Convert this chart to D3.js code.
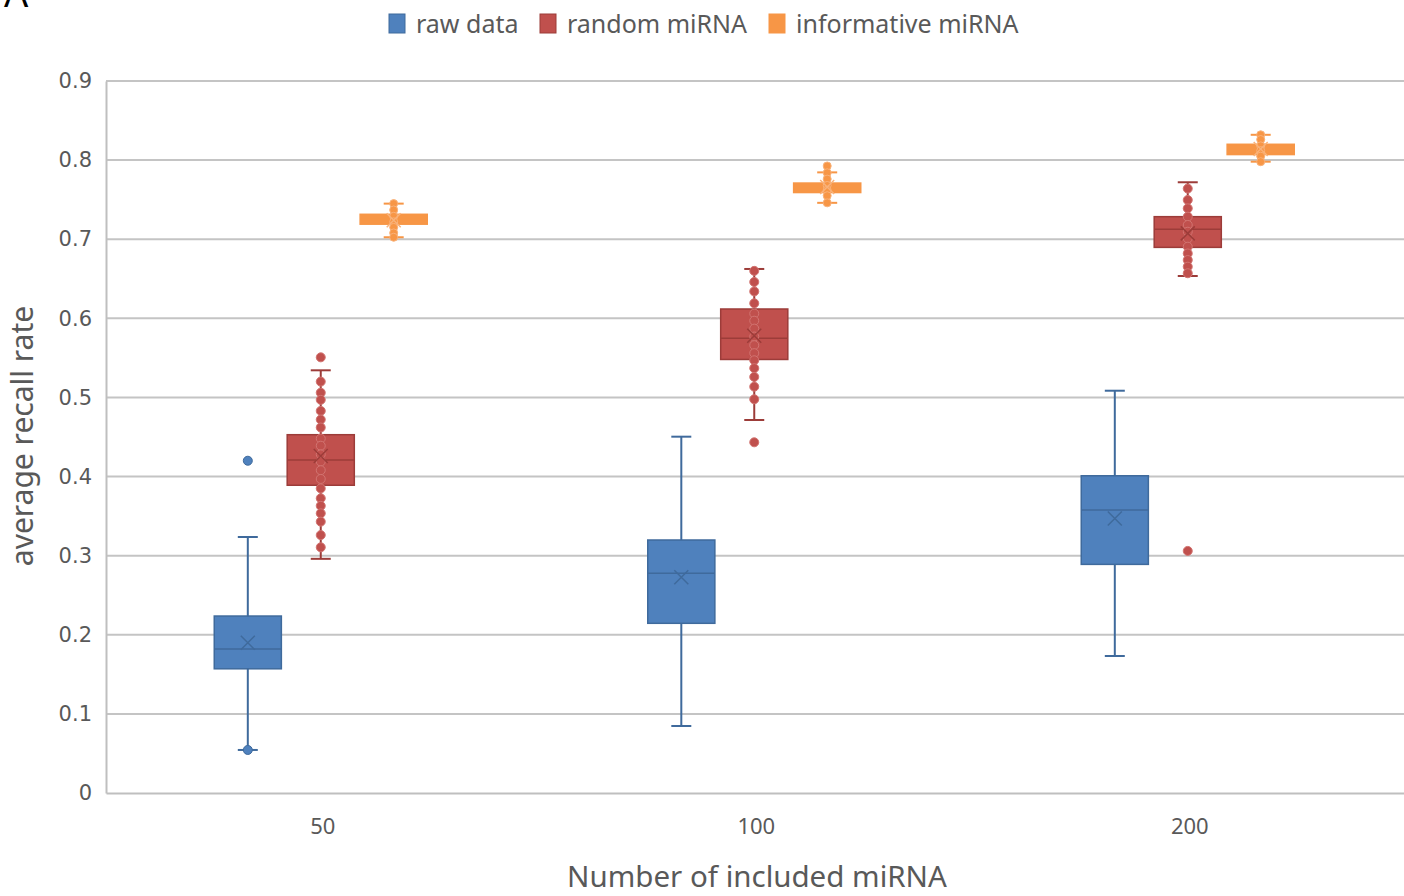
<!DOCTYPE html>
<html lang="en">
<head>
<meta charset="UTF-8">
<script src="https://d3js.org/d3.v7.min.js"></script>
<title>recall</title>
<style>
  body { margin: 0; background: #fff; }
  text { font-family: "Noto Sans", sans-serif; fill: #595959; }
</style>
</head>
<body>
<svg width="1404" height="896" id="chart"></svg>
<script>
    // data
    const categories = ["50", "100", "200"];
    const series = ["raw data", "random miRNA", "informative miRNA"];
    const colors = ["#4f81bd", "#c0504d", "#f79646"];
    const strokes = ["#3f6a9c", "#9c3c39", "#f79646"];
    const yTicks = [0, 0.1, 0.2, 0.3, 0.4, 0.5, 0.6, 0.7, 0.8, 0.9];

    // per series, one value per category
    const whiskerLow  = [[0.0544, 0.0847, 0.1732], [0.296, 0.4715, 0.6535], [0.7025, 0.746, 0.798]];
    const q1          = [[0.157, 0.2145, 0.289],   [0.389, 0.548, 0.6897],  [0.719, 0.759, 0.807]];
    const median      = [[0.182, 0.2777, 0.3577],  [0.421, 0.5747, 0.7125], [0.725, 0.765, 0.813]];
    const q3          = [[0.2237, 0.3198, 0.401],  [0.4529, 0.6118, 0.7285],[0.7315, 0.771, 0.820]];
    const whiskerHigh = [[0.3236, 0.4504, 0.5085], [0.5343, 0.6624, 0.772], [0.745, 0.7845, 0.832]];
    const means       = [[0.19, 0.2727, 0.347],    [0.426, 0.578, 0.7074],  [0.724, 0.766, 0.814]];

    // shown points (inner points and outliers), per series then category
    const rawPoints = [[0.42, 0.0544], [], []];
    const randomPoints = [
        [0.5507, 0.520, 0.506, 0.497, 0.483, 0.472, 0.462, 0.448, 0.439, 0.428, 0.419, 0.408,
         0.397, 0.385, 0.3725, 0.363, 0.3535, 0.343, 0.326, 0.3106],
        [0.660, 0.646, 0.634, 0.619, 0.606, 0.597, 0.587, 0.577, 0.566, 0.556, 0.547, 0.537,
         0.526, 0.5136, 0.4977, 0.4433],
        [0.764, 0.7496, 0.739, 0.7285, 0.718, 0.7095, 0.701, 0.6906, 0.682, 0.6737, 0.6653,
         0.657, 0.306]
    ];
    const informativePoints = [
        [0.745, 0.737, 0.729, 0.722, 0.715, 0.708, 0.7025],
        [0.7926, 0.784, 0.776, 0.768, 0.762, 0.755, 0.746],
        [0.832, 0.826, 0.818, 0.812, 0.805, 0.798]
    ];
    const points = [rawPoints, randomPoints, informativePoints];
    const pointRadius = [4.5, 4.5, 4];

    let svg = d3.select("#chart");

    let y = d3.scaleLinear().domain([0, 0.9]).range([793, 81]);
    let x0 = d3.scaleBand().domain(categories).range([106, 1406.5]);
    let x1 = d3.scaleBand().domain(series).range([0, 213]).paddingInner(0.08);
    let boxW = x1.bandwidth();

    function boxLeft(ci, si) {
        return x0(categories[ci]) + x0.bandwidth() / 2 - 108.5 + x1(series[si]);
    }

    // panel letter, cut off at the top like the original
    svg.append("text")
        .attr("x", 4).attr("y", 7)
        .text("A")
        .style("fill", "#000")
        .style("font-size", "38px");

    // gridlines
    svg.append("g").selectAll("line")
        .data(yTicks.filter(d => d > 0))
        .join("line")
        .attr("x1", 106).attr("x2", 1404)
        .attr("y1", d => y(d)).attr("y2", d => y(d))
        .attr("stroke", "#c4c4c4")
        .attr("stroke-width", 2);

    // y axis
    let yAxis = svg.append("g")
        .attr("transform", "translate(106,0)")
        .call(d3.axisLeft(y).tickValues(yTicks).tickSize(0).tickPadding(14).tickFormat(d => d === 0 ? "0" : d3.format(".1f")(d)));
    yAxis.select(".domain").attr("stroke", "#bfbfbf").attr("stroke-width", 2);
    yAxis.selectAll("text").style("font-size", "21px").style("fill", "#595959").style("font-family", "'DejaVu Sans', sans-serif");

    // x axis
    let xAxis = svg.append("g")
        .attr("transform", "translate(0,793)")
        .call(d3.axisBottom(x0).tickSize(0).tickPadding(25));
    xAxis.select(".domain").attr("stroke", "#bfbfbf").attr("stroke-width", 2);
    xAxis.selectAll("text").style("font-size", "22px").style("fill", "#595959").style("font-family", "'Noto Sans', sans-serif");

    // axis titles
    svg.append("text")
        .attr("x", 757).attr("y", 887)
        .attr("text-anchor", "middle")
        .style("font-size", "29.5px")
        .text("Number of included miRNA");

    svg.append("text")
        .attr("transform", "translate(33,436) rotate(-90)")
        .attr("text-anchor", "middle")
        .style("font-size", "30px")
        .text("average recall rate");

    // legend
    let legendX = [389, 540, 769];
    series.forEach(function(s, i) {
        svg.append("rect")
            .attr("x", legendX[i]).attr("y", 14)
            .attr("width", 16).attr("height", 19)
            .attr("fill", colors[i])
            .attr("stroke", strokes[i]).attr("stroke-width", 1);
        svg.append("text")
            .attr("x", legendX[i] + 27).attr("y", 33)
            .style("font-size", "25px")
            .text(s);
    });

    // boxes
    series.forEach(function(s, si) {
        let g = svg.append("g");
        categories.forEach(function(c, ci) {
            let left = boxLeft(ci, si);
            let cx = left + boxW / 2;

            // whisker line
            g.append("line")
                .attr("x1", cx).attr("x2", cx)
                .attr("y1", y(whiskerLow[si][ci])).attr("y2", y(whiskerHigh[si][ci]))
                .attr("stroke", strokes[si]).attr("stroke-width", 2);

            // caps
            [whiskerLow[si][ci], whiskerHigh[si][ci]].forEach(function(v) {
                g.append("line")
                    .attr("x1", cx - 10).attr("x2", cx + 10)
                    .attr("y1", y(v)).attr("y2", y(v))
                    .attr("stroke", strokes[si]).attr("stroke-width", 2);
            });

            // box
            g.append("rect")
                .attr("x", left).attr("y", y(q3[si][ci]))
                .attr("width", boxW)
                .attr("height", y(q1[si][ci]) - y(q3[si][ci]))
                .attr("fill", colors[si])
                .attr("stroke", strokes[si]).attr("stroke-width", 1.5);

            // median
            g.append("line")
                .attr("x1", left).attr("x2", left + boxW)
                .attr("y1", y(median[si][ci])).attr("y2", y(median[si][ci]))
                .attr("stroke", strokes[si]).attr("stroke-width", 1.5);

            // points
            g.selectAll(null)
                .data(points[si][ci])
                .join("circle")
                .attr("cx", cx)
                .attr("cy", d => y(d))
                .attr("r", pointRadius[si])
                .attr("fill", colors[si])
                .attr("stroke", si === 1 ? "#d27471" : (si === 2 ? "#f9b27a" : strokes[si]))
                .attr("stroke-width", 1);

            // mean marker
            let my = y(means[si][ci]);
            g.append("path")
                .attr("d", `M${cx - 7},${my - 7}L${cx + 7},${my + 7}M${cx - 7},${my + 7}L${cx + 7},${my - 7}`)
                .attr("stroke", si === 2 ? "#f9b27a" : strokes[si])
                .attr("stroke-width", 1.5)
                .attr("fill", "none");
        });
    });
</script>
</body>
</html>
